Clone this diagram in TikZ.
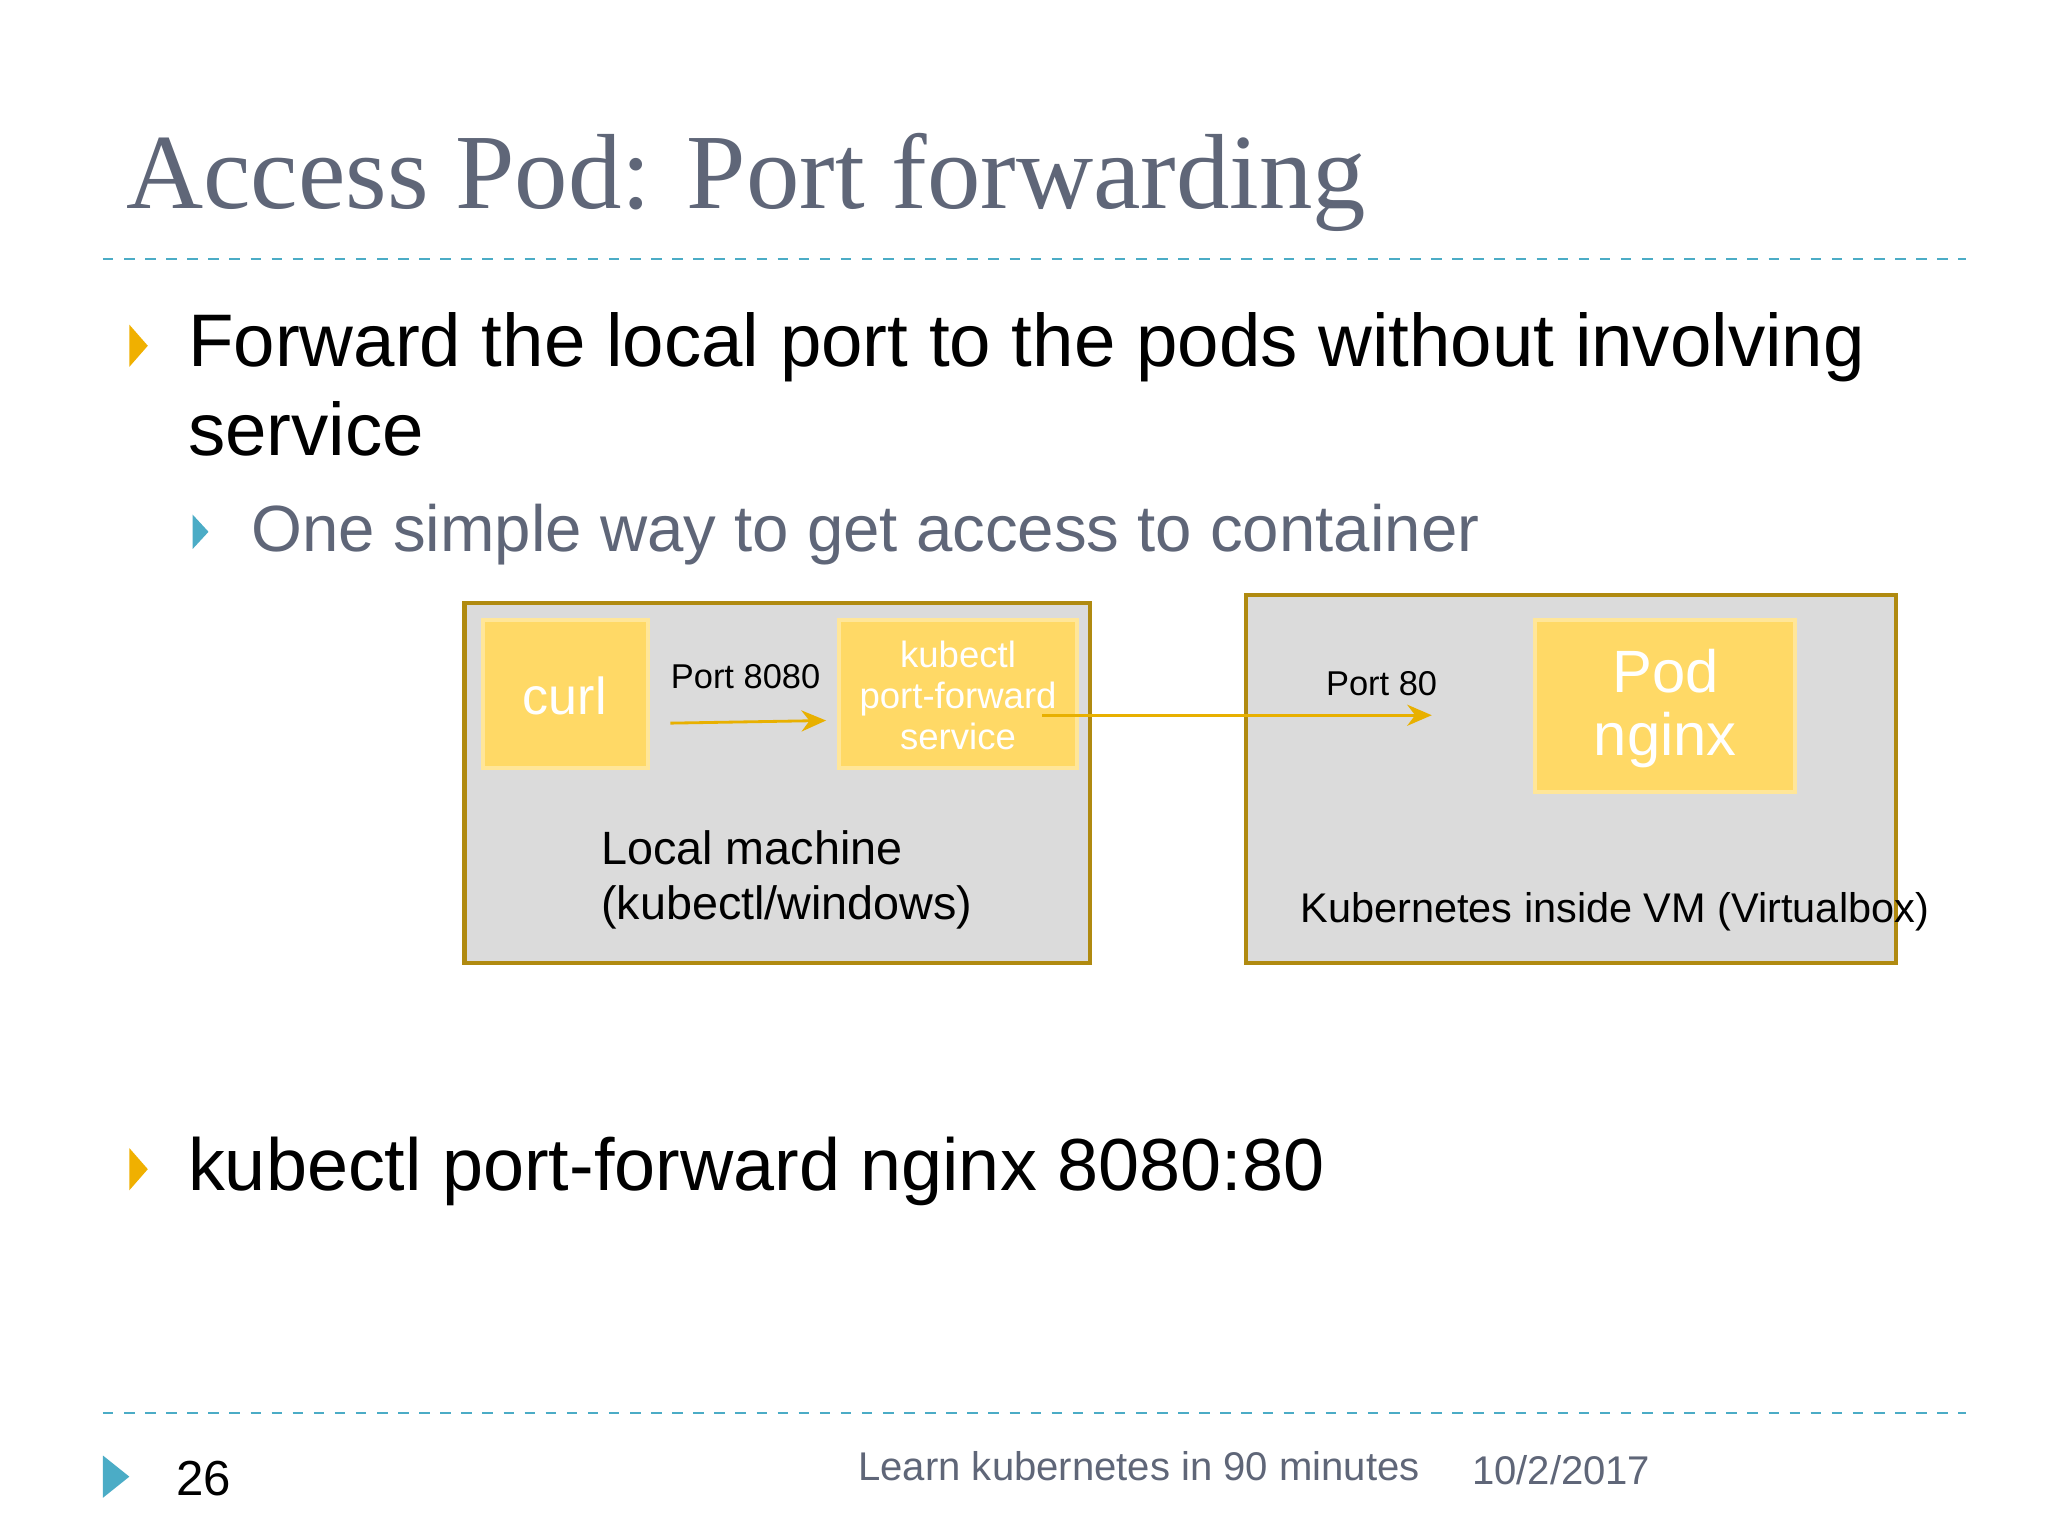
\documentclass[tikz,border=0pt]{standalone}
\usepackage{fontspec}
\setmainfont{Liberation Sans}
\newfontfamily\titlefont{Liberation Serif}
\usetikzlibrary{arrows.meta}
\definecolor{teal}{HTML}{4BACC6}
\definecolor{bul}{HTML}{F0B000}
\definecolor{boxfill}{HTML}{DBDBDB}
\definecolor{boxline}{HTML}{B08A10}
\definecolor{yfill}{HTML}{FFD966}
\definecolor{yline}{HTML}{FFE699}
\definecolor{titlec}{HTML}{5F6678}
\definecolor{subc}{HTML}{5F6678}
\definecolor{arr}{HTML}{E8B000}
\begin{document}
\begin{tikzpicture}[x=0.013196cm,y=-0.013196cm,
  grey/.style={draw=boxline,line width=1.2pt,fill=boxfill},
  ybox/.style={draw=yline,line width=1.2pt,fill=yfill},
  lbl/.style={font=\fontsize{9.8}{12}\selectfont,inner sep=0},
  conn/.style={arr,line width=0.8pt,-{Stealth[length=7pt,width=6pt]}},
  dashline/.style={teal,dashed,line width=0.6pt}]
\useasboundingbox[fill=white] (0,0) rectangle (1552,1164);
\node[anchor=base west,inner sep=0,text=titlec,font=\titlefont\fontsize{30.4}{36}\selectfont] (title) at (95,158) {Access Pod: Port forwarding};
\draw[dashline] (78,196) -- (1490,196);
\draw[dashline] (78,1071) -- (1490,1071);
% bullets
\fill[bul] (98,246) -- (112,262) -- (98,278) -- cycle;
\node[anchor=base west,inner sep=0,font=\fontsize{21.2}{26}\selectfont] (b1) at (142,278) {Forward the local port to the pods without involving};
\node[anchor=base west,inner sep=0,font=\fontsize{21.2}{26}\selectfont] (b1b) at (142,345) {service};
\fill[teal] (146,390) -- (158,403) -- (146,416) -- cycle;
\node[anchor=base west,inner sep=0,text=subc,font=\fontsize{18.6}{22}\selectfont] (b2) at (190,418) {One simple way to get access to container};
\fill[bul] (98,870) -- (112,886) -- (98,902) -- cycle;
\node[anchor=base west,inner sep=0,font=\fontsize{21}{26}\selectfont] (b3) at (142,902) {kubectl port-forward nginx 8080:80};
% diagram
\draw[grey] (352,457) rectangle (826,730);
\draw[grey] (944,451) rectangle (1437,730);
\path[ybox] (366,470) rectangle (491,582);
\node[text=white,font=\fontsize{14.8}{18}\selectfont] (curl) at (428,527) {curl};
\path[ybox] (636,470) rectangle (816,582);
\node[text=white,align=center,font=\fontsize{10.4}{11.8}\selectfont] (kpf) at (726,527) {kubectl\\port-forward\\service};
\path[ybox] (1163,470) rectangle (1360,600);
\node[text=white,align=center,font=\fontsize{17}{18}\selectfont] (pod) at (1262,537) {Pod\\nginx};
\node[lbl] (p8080) at (565,513) {Port 8080};
\node[lbl] (p80) at (1047,518) {Port 80};
\node[anchor=base west,inner sep=0,font=\fontsize{13.3}{16}\selectfont] (lm) at (455,655) {Local machine};
\node[anchor=base west,inner sep=0,font=\fontsize{13.3}{16}\selectfont] (lm2) at (455,697) {(kubectl/windows)};
\node[anchor=base west,inner sep=0,font=\fontsize{11.8}{15}\selectfont] (k8s) at (985,699) {Kubernetes inside VM (Virtualbox)};
\coordinate (a1) at (508,548);
\coordinate (a2) at (626,546);
\coordinate (c1) at (790,542);
\coordinate (c2) at (1085,542);
\draw[conn] (a1) -- (a2);
\draw[conn] (c1) -- (c2);
% footer
\fill[teal] (78,1103) -- (98,1119) -- (78,1135) -- cycle;
\node[anchor=base west,inner sep=0,font=\fontsize{14}{17}\selectfont] (num) at (133,1133) {26};
\node[anchor=base west,inner sep=0,text=subc,font=\fontsize{11.4}{15}\selectfont] (ft) at (650,1122) {Learn kubernetes in 90 minutes};
\node[anchor=base west,inner sep=0,text=subc,font=\fontsize{11.4}{15}\selectfont] (dt) at (1115,1125) {10/2/2017};
\end{tikzpicture}
\end{document}
